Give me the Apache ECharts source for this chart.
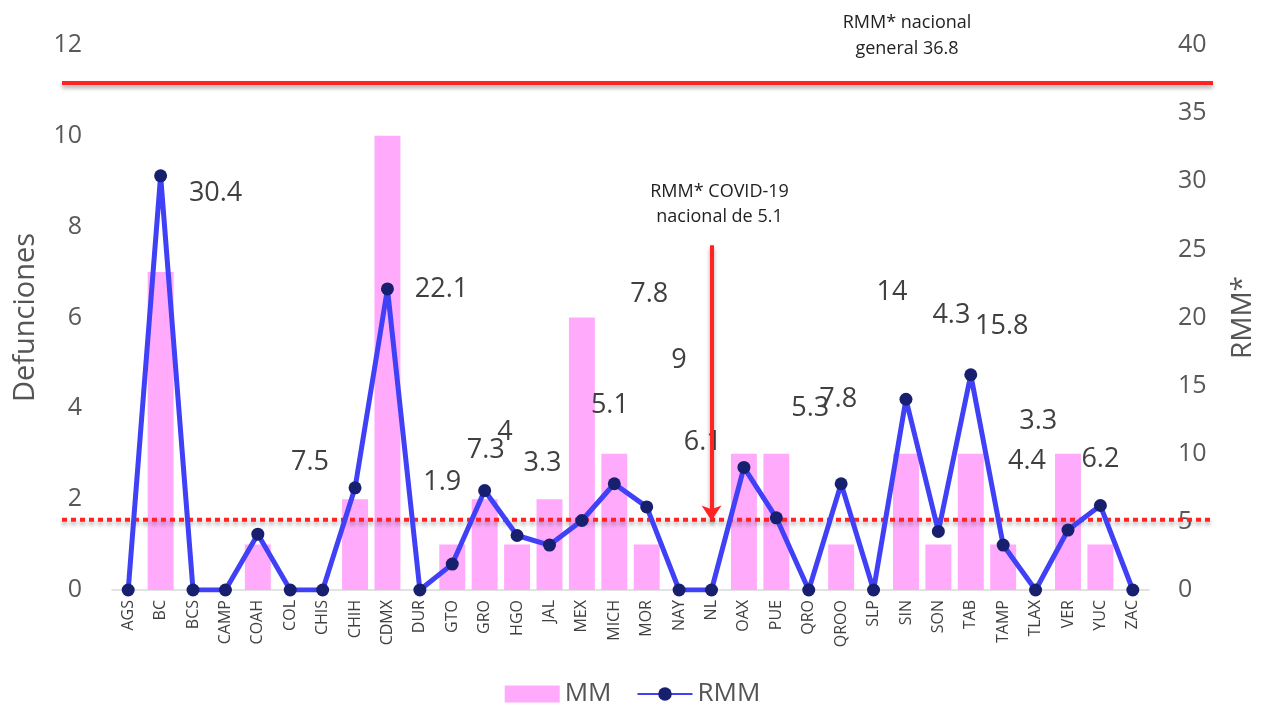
<!DOCTYPE html>
<html>
<head>
<meta charset="utf-8">
<title>MM y RMM por entidad</title>
<script src="https://cdn.jsdelivr.net/npm/echarts@6/dist/echarts.min.js"></script>
<style>
  html, body { margin: 0; padding: 0; background: #fff; }
  #chart { width: 1265px; height: 707px; }
</style>
</head>
<body>
<div id="chart"></div>
<script>
// entidades federativas
const states = ['AGS', 'BC', 'BCS', 'CAMP', 'COAH', 'COL', 'CHIS', 'CHIH', 'CDMX', 'DUR', 'GTO', 'GRO',
    'HGO', 'JAL', 'MEX', 'MICH', 'MOR', 'NAY', 'NL', 'OAX', 'PUE', 'QRO', 'QROO', 'SLP', 'SIN', 'SON',
    'TAB', 'TAMP', 'TLAX', 'VER', 'YUC', 'ZAC'];

// defunciones (MM)
const mmValues = [0, 7, 0, 0, 1, 0, 0, 2, 10, 0, 1, 2,
    1, 2, 6, 3, 1, 0, 0, 3, 3, 0, 1, 0, 3, 1,
    3, 1, 0, 3, 1, 0];

// razon de mortalidad materna (RMM)
const rmmValues = [0, 30.4, 0, 0, 4.1, 0, 0, 7.5, 22.1, 0, 1.9, 7.3,
    4, 3.3, 5.1, 7.8, 6.1, 0, 0, 9, 5.3, 0, 7.8, 0, 14, 4.3,
    15.8, 3.3, 0, 4.4, 6.2, 0];

// where each label sits relative to its point (null = no label)
const labelOffsets = [null, [55, 18], null, null, null, null, null, [-45, -26], [54, 0], null, [-10, -82], [1, -40],
    [-12, -103], [-7, -82], [28, -115], [35, -189], [56, -65], null, null, [-65, -107], [34, -109], null, [-3, -84], null, [-14, -107], [13, -216],
    [31, -48], [35, -124], null, [-41, -69], [0, -46], null];

const rmmGeneral = 36.8;
const rmmCovid = 5.1;
const covidState = 'NL';
const arrowTop = 25.3;

const font = 'Open Sans';
const red = '#ff2323';

const chart = echarts.init(document.getElementById('chart'));

const rmmData = rmmValues.map((v, i) => {
    const off = labelOffsets[i];
    if (!off) return { value: v, label: { show: false } };
    return { value: v, label: { show: true, offset: off } };
});

const redShadow = { shadowColor: 'rgba(0,0,0,0.35)', shadowBlur: 4, shadowOffsetY: 3 };

chart.setOption({
    animation: false,
    textStyle: { fontFamily: font },
    grid: [
        { left: 112, right: 111, top: 45, bottom: 117 },
        // wider grid only for the two national reference lines
        { left: 62, right: 52, top: 45, bottom: 117 }
    ],
    legend: {
        top: 676,
        left: 'center',
        itemWidth: 55,
        itemHeight: 17,
        itemGap: 25,
        data: [{ name: 'MM', icon: 'rect' }, { name: 'RMM' }],
        textStyle: { fontSize: 26, color: '#555', fontFamily: font }
    },
    xAxis: [{
        type: 'category',
        gridIndex: 0,
        data: states,
        axisLine: { lineStyle: { color: '#d9d9d9', width: 1.5 } },
        axisTick: { show: false },
        axisLabel: { rotate: 90, fontSize: 16, color: '#404040', margin: 10, interval: 0 }
    }, {
        type: 'value', gridIndex: 1, min: 0, max: 1, show: false
    }],
    yAxis: [{
        type: 'value',
        gridIndex: 0,
        min: 0, max: 12, interval: 2,
        name: 'Defunciones',
        nameLocation: 'middle',
        nameGap: 72,
        nameTextStyle: { fontSize: 29, color: '#555' },
        axisLine: { show: false },
        axisTick: { show: false },
        splitLine: { show: false },
        axisLabel: { fontSize: 25, color: '#595959', margin: 30 }
    }, {
        type: 'value',
        gridIndex: 0,
        position: 'right',
        min: 0, max: 40, interval: 5,
        name: 'RMM*',
        nameLocation: 'middle',
        nameGap: 80,
        nameTextStyle: { fontSize: 28, color: '#555' },
        axisLine: { show: false },
        axisTick: { show: false },
        splitLine: { show: false },
        axisLabel: { fontSize: 25, color: '#595959', margin: 29 }
    }, {
        type: 'value', gridIndex: 1, min: 0, max: 39.55, show: false
    }],
    graphic: [{
        type: 'text',
        style: {
            text: 'RMM* nacional\ngeneral 36.8',
            x: 907, y: 10,
            textAlign: 'center',
            font: '18px "Open Sans"',
            lineHeight: 26,
            fill: '#222'
        }
    }],
    series: [{
        name: 'MM',
        type: 'bar',
        xAxisIndex: 0, yAxisIndex: 0,
        data: mmValues,
        barWidth: '80%',
        itemStyle: { color: '#ffaafb' },
        z: 2
    }, {
        name: 'nacional general',
        type: 'line',
        xAxisIndex: 1, yAxisIndex: 2,
        data: [[0, rmmGeneral], [1, rmmGeneral]],
        showSymbol: false,
        silent: true,
        lineStyle: Object.assign({ color: red, width: 4 }, redShadow),
        z: 3
    }, {
        name: 'nacional COVID-19',
        type: 'line',
        xAxisIndex: 1, yAxisIndex: 2,
        data: [[0, rmmCovid], [1, rmmCovid]],
        showSymbol: false,
        silent: true,
        lineStyle: Object.assign({ color: red, width: 4, type: [5, 4] }, redShadow),
        z: 3
    }, {
        name: 'RMM',
        type: 'line',
        xAxisIndex: 0, yAxisIndex: 1,
        data: rmmData,
        symbol: 'circle',
        symbolSize: 13,
        lineStyle: { color: '#4040f7', width: 5 },
        itemStyle: { color: '#17206e' },
        label: {
            position: 'inside',
            fontSize: 27,
            color: '#404040',
            align: 'center',
            verticalAlign: 'middle'
        },
        markLine: {
            silent: true,
            symbol: ['none', 'arrow'],
            symbolSize: 15,
            lineStyle: Object.assign({ color: red, width: 4, type: 'solid' }, redShadow),
            label: {
                show: true,
                position: 'start',
                distance: 20,
                offset: [8, 4],
                formatter: 'RMM* COVID-19\nnacional de 5.1',
                fontSize: 18,
                lineHeight: 25,
                color: '#222'
            },
            data: [[{ coord: [covidState, arrowTop] }, { coord: [covidState, rmmCovid] }]]
        },
        z: 4
    }]
});
</script>
</body>
</html>
